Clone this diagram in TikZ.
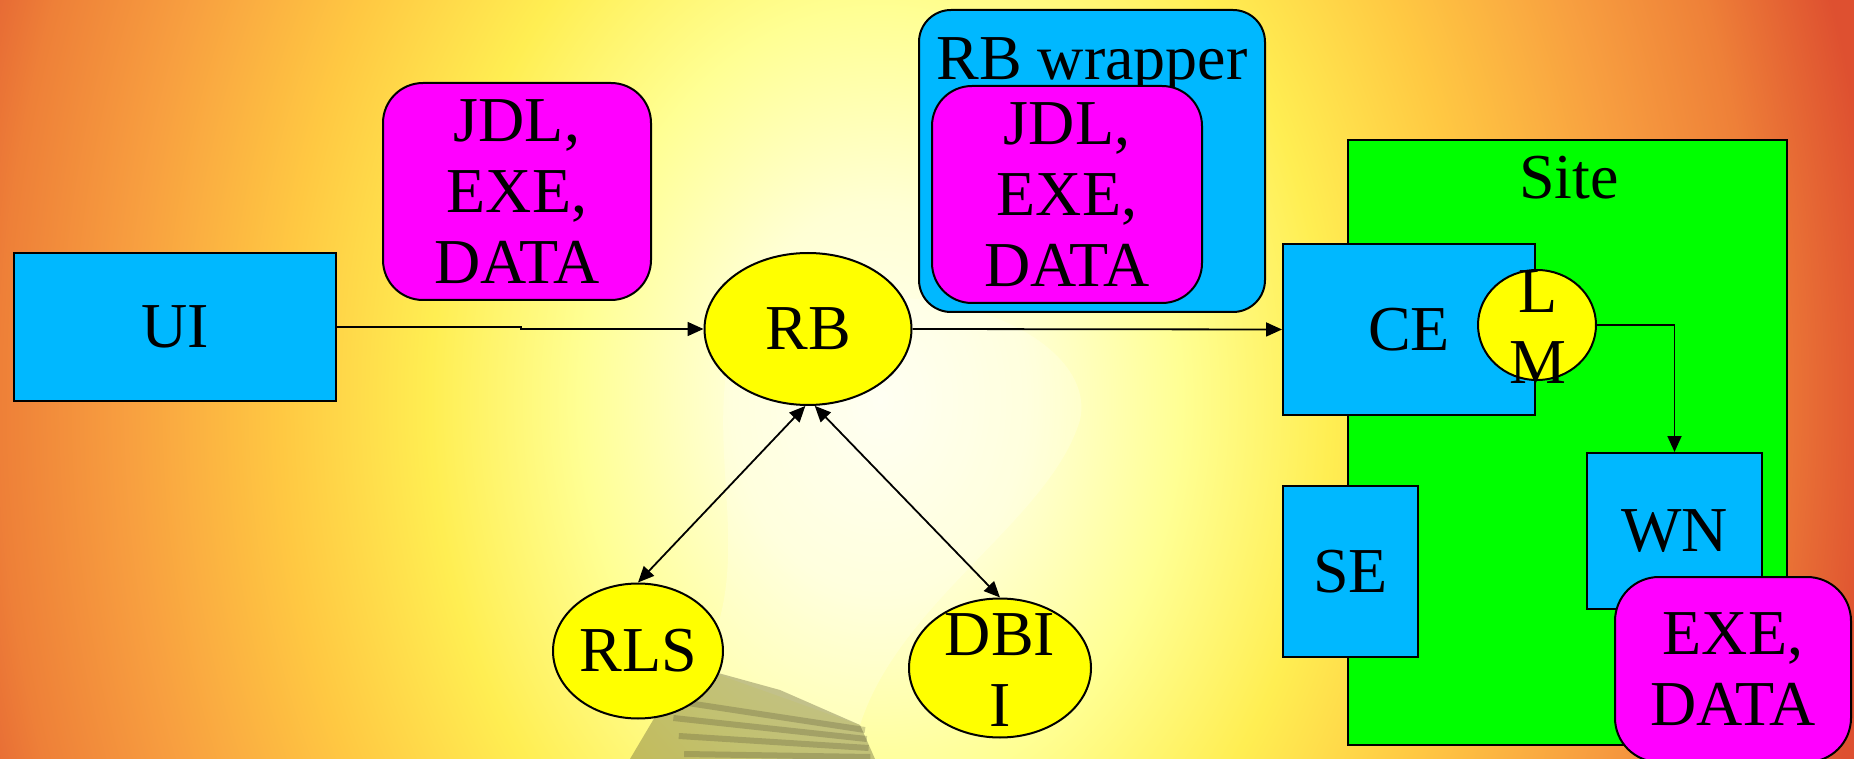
\documentclass[tikz,border=0pt]{standalone}
\usepackage{fontspec}
\setmainfont{Liberation Serif}
\usetikzlibrary{arrows.meta,shapes.geometric}
\definecolor{bgA}{HTML}{FFFFF0}
\definecolor{bgB}{HTML}{FFFFD4}
\definecolor{bgC}{HTML}{FFFF94}
\definecolor{bgD}{HTML}{FFEE52}
\definecolor{bgE}{HTML}{FFC842}
\definecolor{bgF}{HTML}{F8A040}
\definecolor{bgG}{HTML}{EE8038}
\definecolor{bgH}{HTML}{DE5030}
\definecolor{boxcyan}{RGB}{0,184,255}
\definecolor{boxmag}{RGB}{255,0,255}
\definecolor{boxyel}{RGB}{255,255,0}
\definecolor{boxgreen}{RGB}{0,255,0}
\pgfdeclareradialshading{bgshade}{\pgfpoint{0bp}{0bp}}{color(0bp)=(bgA); color(3.75bp)=(bgB); color(7.5bp)=(bgC); color(11.25bp)=(bgD); color(15bp)=(bgE); color(18.75bp)=(bgF); color(22bp)=(bgG); color(25bp)=(bgH); color(50bp)=(bgH)}
\tikzset{
  txt/.style={font=\fontsize{32}{35.5}\selectfont, align=center},
  cyanbox/.style={draw=black, line width=1pt, fill=boxcyan, rectangle, inner sep=0pt, txt},
  magbox/.style={draw=black, line width=1pt, fill=boxmag, rectangle, rounded corners=20pt, inner sep=0pt, txt},
  yelell/.style={draw=black, line width=1pt, fill=boxyel, ellipse, inner sep=0pt, txt},
  conn/.style={line width=0.9pt, draw=black, -{Triangle[length=8pt,width=7pt]}},
  dconn/.style={line width=0.9pt, draw=black, {Triangle[length=8pt,width=7pt]}-{Triangle[length=8pt,width=7pt]}}
}
\begin{document}
\begin{tikzpicture}[x=0.5pt,y=-0.5pt]
\useasboundingbox (0,0) rectangle (1854,759);
\clip (0,0) rectangle (1854,759);
% background
\fill[bgH] (0,0) rectangle (1854,759);
\shade[shading=bgshade] (880,400) ellipse [x radius=1000, y radius=1300];
% faint light bulb glass and base
\fill[white, opacity=0.22] (735,330) .. controls (700,450) and (760,560) .. (700,668) -- (860,725) .. controls (900,600) and (1050,520) .. (1080,420) .. controls (1100,330) and (900,250) .. (735,330) -- cycle;
\fill[black!55!olive, opacity=0.35] (630,759) -- (665,700) -- (700,668) -- (780,690) -- (860,725) -- (875,759) -- cycle;
\foreach \d in {0,18,36,54} {
  \draw[black!65!olive, opacity=0.25, line width=3pt] (668+\d*0.3,700+\d) -- (865+\d*0.1,730+\d*0.5);
}

% left part
\node[cyanbox, minimum width=161pt, minimum height=74pt] (ui) at (175,327) {UI};
\node[magbox, minimum width=134pt, minimum height=108.5pt] (jdla) at (517,191.5) {JDL,\\EXE,\\DATA};
\node[yelell, minimum width=103.5pt, minimum height=76pt] (rb) at (808,329) {RB};
\node[yelell, minimum width=85pt, minimum height=67.5pt] (rls) at (638,651) {RLS};
\node[yelell, minimum width=91pt, minimum height=69.5pt] (dbii) at (1000,668) {};
\node[txt, inner sep=0pt] (dbiit) at (1000,670) {DBI\\I};

% RB wrapper
\node[draw=black, line width=1pt, fill=boxcyan, rounded corners=16pt, minimum width=173pt, minimum height=151pt, inner sep=0pt] (wrap) at (1092,161) {};
\node[txt, anchor=base, inner sep=0pt] (wrapt) at (1092,80) {RB wrapper};
\node[magbox, minimum width=135pt, minimum height=108.5pt] (jdlb) at (1067,194.5) {JDL,\\EXE,\\DATA};

% Site
\node[draw=black, line width=1pt, fill=boxgreen, minimum width=219.5pt, minimum height=302.5pt, inner sep=0pt] (site) at (1567.5,442.5) {};
\node[txt, anchor=base, inner sep=0pt] (sitet) at (1569,199) {Site};
\node[cyanbox, minimum width=126pt, minimum height=85.5pt] (ce) at (1409,329.5) {CE};
\node[yelell, minimum width=59pt, minimum height=55pt] (lm) at (1537,325) {};
\node[txt, inner sep=0pt] (lmt) at (1538,327) {L\\M};
\node[cyanbox, minimum width=67.5pt, minimum height=85.5pt] (se) at (1350.5,571.5) {SE};
\node[cyanbox, minimum width=87.5pt, minimum height=78pt] (wn) at (1674.5,531) {WN};
\node[magbox, rounded corners=22pt, minimum width=118pt, minimum height=92.5pt] (exe) at (1733,669.5) {EXE,\\DATA};

% connectors
\draw[conn] (ui.east) -- ++(184,0) |- (rb.west);
\draw[conn] (rb.east) -- (ce.west);
\draw[conn] (lm.east) -| (wn.north);
\draw[dconn] (rb.268) -- (rls.north);
\draw[dconn] (rb.275) -- (dbii.north);
\end{tikzpicture}
\end{document}
